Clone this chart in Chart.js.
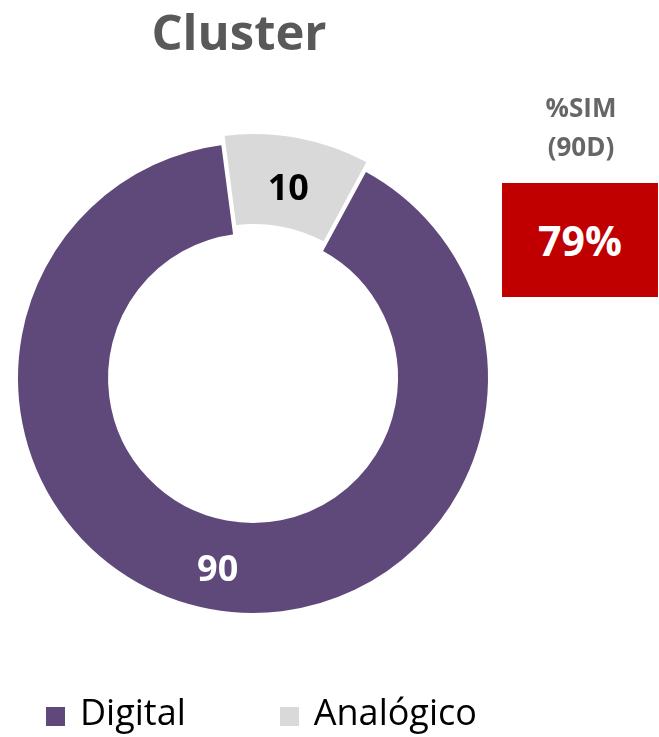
<!DOCTYPE html>
<html>
<head>
<meta charset="utf-8">
<script src="https://cdn.jsdelivr.net/npm/chart.js@4.4.1/dist/chart.umd.min.js"></script>
<style>
  html, body { margin: 0; padding: 0; background: #fff; }
  #wrap { position: relative; width: 659px; height: 737px; font-family: 'Open Sans', sans-serif; }
  #chart-box { position: absolute; left: 0; top: 0; width: 659px; height: 737px; }
  #title { position: absolute; left: 0; top: -2px; width: 478px; text-align: center;
           font-weight: bold; font-size: 49px; color: #595959; }
  #sim-label { position: absolute; left: 502px; top: 88px; width: 158px; text-align: center;
               font-weight: bold; font-size: 26px; line-height: 39px; color: #666666; }
  #sim-box { position: absolute; left: 502px; top: 183px; width: 156px; height: 114px;
             background: #C00000; color: #fff; font-weight: bold; font-size: 41px;
             display: flex; align-items: center; justify-content: center; }
  #legend { position: absolute; left: 46px; top: 687px; display: flex; font-size: 36px; color: #000; }
  .item { display: flex; align-items: flex-start; margin-right: 94px; }
  .swatch { width: 19px; height: 19px; margin-top: 20px; margin-right: 15px; }
</style>
</head>
<body>
<div id="wrap">
  <div id="chart-box"><canvas id="chart"></canvas></div>
  <div id="title"></div>
  <div id="sim-label"></div>
  <div id="sim-box"></div>
  <div id="legend"></div>
</div>
<script>
// chart data
const categories = ['Digital', 'Analógico'];
const values = [90, 10];
const colors = ['#5F497A', '#D9D9D9'];
const labelColors = ['#FFFFFF', '#000000'];
const titleText = 'Cluster';
const simTitle = ['%SIM', '(90D)'];
const simValue = 79;

document.getElementById('title').textContent = titleText;
document.getElementById('sim-label').innerHTML = simTitle.join('<br>');
document.getElementById('sim-box').textContent = simValue + '%';

// legend built from the categories
const legend = document.getElementById('legend');
categories.forEach((name, i) => {
  const item = document.createElement('div');
  item.className = 'item';
  const sw = document.createElement('div');
  sw.className = 'swatch';
  sw.style.background = colors[i];
  const txt = document.createElement('span');
  txt.textContent = name;
  item.appendChild(sw);
  item.appendChild(txt);
  legend.appendChild(item);
});

// value labels in the middle of each slice
const sliceLabels = {
  id: 'sliceLabels',
  afterDatasetsDraw(chart) {
    const ctx = chart.ctx;
    const meta = chart.getDatasetMeta(0);
    ctx.save();
    ctx.font = 'bold 36px "Open Sans"';
    ctx.textAlign = 'center';
    ctx.textBaseline = 'middle';
    meta.data.forEach((arc, i) => {
      const mid = (arc.startAngle + arc.endAngle) / 2;
      const r = (arc.innerRadius + arc.outerRadius) / 2 + 4;
      ctx.fillStyle = labelColors[i];
      ctx.fillText(values[i], arc.x + Math.cos(mid) * r, arc.y + Math.sin(mid) * r + 2);
    });
    ctx.restore();
  }
};

const ctx = document.getElementById('chart').getContext('2d');
const chart = new Chart(ctx, {
  type: 'doughnut',
  data: {
    labels: categories,
    datasets: [{
      data: values,
      backgroundColor: colors,
      borderColor: '#FFFFFF',
      borderWidth: 2,
      offset: [0, 26],
      clip: false,
    }],
  },
  options: {
    responsive: true,
    maintainAspectRatio: false,
    animation: false,
    rotation: 28.5,
    cutout: '61%',
    radius: 236,
    layout: {
      padding: { left: 0, right: 153, top: 19, bottom: 0 },
    },
    plugins: {
      legend: { display: false },
      tooltip: { enabled: false },
    },
  },
  plugins: [sliceLabels],
});
</script>
</body>
</html>
